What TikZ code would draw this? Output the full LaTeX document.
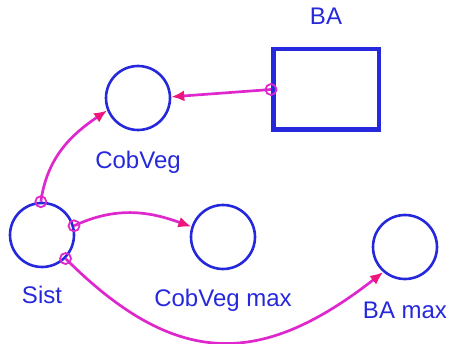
\documentclass[tikz,border=0pt]{standalone}
\usepackage{fontspec}
\setmainfont{Liberation Sans}
\usetikzlibrary{arrows.meta,positioning}
\definecolor{vblue}{RGB}{38,40,220}
\definecolor{vmag}{RGB}{222,40,205}
\definecolor{vred}{RGB}{238,22,125}
\tikzset{
  aux/.style={circle, draw=vblue, line width=2.6pt, minimum size=64pt, inner sep=0pt},
  lvl/.style={draw=vblue, line width=4.5pt, minimum width=105.5pt, minimum height=80.5pt, inner sep=0pt},
  vlab/.style={text=vblue, font=\fontsize{24}{27}\selectfont, inner sep=3pt},
  lnk/.style={vmag, line width=2.7pt, -{Latex[length=13pt, width=11pt, color=vred]}},
  tailc/.style={draw=vmag, line width=1.8pt},
}
\begin{document}
\begin{tikzpicture}[x=1pt, y=-1pt]
        \useasboundingbox (0,0) rectangle (449,344);
        \node[aux] (cv) at (138,98) {};
        \node[aux] (st) at (42,235) {};
        \node[aux] (cvm) at (223,237) {};
        \node[aux] (bam) at (405,247) {};
        \node[lvl] (ba) at (326,89.5) {};
        \node[vlab, above=19pt of ba] (bal) {BA};
        \node[vlab, below=17pt of cv] (cvl) {CobVeg};
        \node[vlab, below=15pt of st] (stl) {Sist};
        \node[vlab, below=16pt of cvm] (cvml) {CobVeg max};
        \node[vlab, below=18pt of bam] (baml) {BA max};
        \draw[lnk] (ba.west) -- (cv.2);
        \draw[lnk] (st.92) to[out=82, in=214] (cv.202);
        \draw[lnk] (st.16) to[out=25, in=160] (cvm.162);
        \draw[lnk] (st.-45) to[out=-45, in=218, looseness=1.25] (bam.229);
        \foreach \p in {ba.west, st.92, st.16, st.-45}{\draw[tailc] (\p) circle (5.5pt);}
      \end{tikzpicture}
\end{document}
